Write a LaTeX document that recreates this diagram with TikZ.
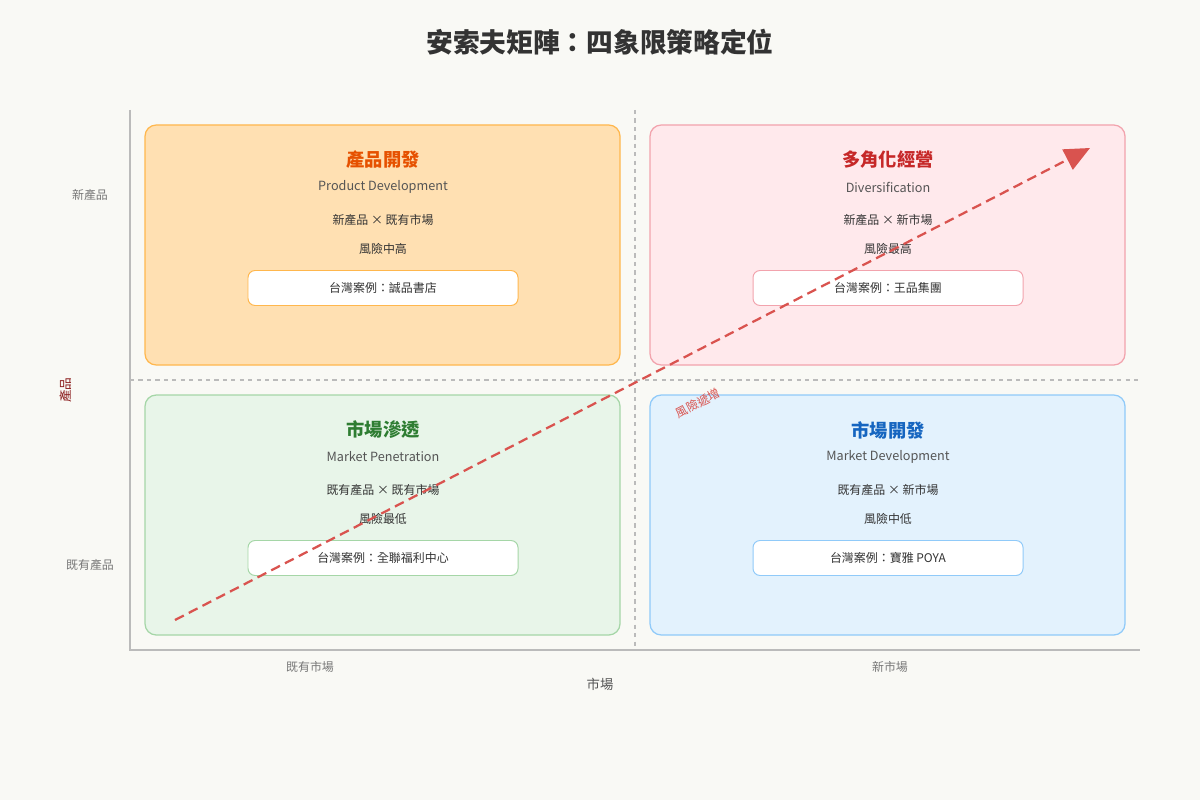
\documentclass[tikz,border=0pt]{standalone}
\usepackage{fontspec}
\setmainfont{Noto Sans CJK TC}
\usetikzlibrary{arrows.meta}
\definecolor{bg}{HTML}{F9F9F5}
\definecolor{axis}{HTML}{BBBBBB}
\definecolor{txt}{HTML}{333333}
\definecolor{sub}{HTML}{555555}
\definecolor{lab}{HTML}{777777}
\definecolor{oF}{HTML}{FFE0B2}\definecolor{oD}{HTML}{FFB74D}\definecolor{oT}{HTML}{E65100}
\definecolor{pF}{HTML}{FFE9EC}\definecolor{pD}{HTML}{F2A3AD}\definecolor{pT}{HTML}{C62828}
\definecolor{gF}{HTML}{E8F5E9}\definecolor{gD}{HTML}{A5D6A7}\definecolor{gT}{HTML}{2E7D32}
\definecolor{bF}{HTML}{E3F2FD}\definecolor{bD}{HTML}{90CAF9}\definecolor{bT}{HTML}{1565C0}
\definecolor{arr}{HTML}{D9534F}
\tikzset{
 quad/.style={draw=#1,line width=0.9pt,rounded corners=8pt},
 qtitle/.style={font=\fontsize{13}{15}\selectfont\bfseries,text=#1},
 qsub/.style={font=\fontsize{9}{11}\selectfont,text=sub},
 qline/.style={font=\fontsize{8.5}{10}\selectfont,text=txt},
 casebox/.style={draw=#1,fill=white,rounded corners=5pt,line width=0.7pt,minimum width=270*0.025cm,minimum height=35*0.025cm,font=\fontsize{8.5}{10}\selectfont,text=txt},
 axlab/.style={font=\fontsize{8.5}{10}\selectfont,text=lab},
}
\begin{document}
\begin{tikzpicture}[x=0.025cm,y=-0.025cm]
\fill[bg] (0,0) rectangle (1200,800);
\useasboundingbox (0,0) rectangle (1200,800);
\node[font=\fontsize{19}{21}\selectfont\bfseries,text=txt] (title) at (600,42) {安索夫矩陣：四象限策略定位};
% axes
\draw[axis,line width=0.8pt] (130,110) -- (130,650) -- (1140,650);
\draw[axis,dashed,line width=0.8pt] (635,110) -- (635,650);
\draw[axis,dashed,line width=0.8pt] (130,380) -- (1140,380);
% quadrants
\draw[quad=oD,fill=oF] (145,125) rectangle (620,365);
\draw[quad=pD,fill=pF] (650,125) rectangle (1125,365);
\draw[quad=gD,fill=gF] (145,395) rectangle (620,635);
\draw[quad=bD,fill=bF] (650,395) rectangle (1125,635);
% TL
\node[qtitle=oT] (t1) at (383,160) {產品開發};
\node[qsub] (s1) at (383,187) {Product Development};
\node[qline] (l1) at (383,220) {新產品 × 既有市場};
\node[qline] (r1) at (383,249) {風險中高};
\node[casebox=oD] (c1) at (383,288) {台灣案例：誠品書店};
% TR
\node[qtitle=pT] (t2) at (888,160) {多角化經營};
\node[qsub] (s2) at (888,187) {Diversification};
\node[qline] (l2) at (888,220) {新產品 × 新市場};
\node[qline] (r2) at (888,249) {風險最高};
\node[casebox=pD] (c2) at (888,288) {台灣案例：王品集團};
% BL
\node[qtitle=gT] (t3) at (383,430) {市場滲透};
\node[qsub] (s3) at (383,457) {Market Penetration};
\node[qline] (l3) at (383,490) {既有產品 × 既有市場};
\node[qline] (r3) at (383,519) {風險最低};
\node[casebox=gD] (c3) at (383,558) {台灣案例：全聯福利中心};
% BR
\node[qtitle=bT] (t4) at (888,430) {市場開發};
\node[qsub] (s4) at (888,457) {Market Development};
\node[qline] (l4) at (888,490) {既有產品 × 新市場};
\node[qline] (r4) at (888,519) {風險中低};
\node[casebox=bD] (c4) at (888,558) {台灣案例：寶雅 POYA};
% arrow
\coordinate (a0) at (175,620);
\coordinate (a1) at (1090,148);
\draw[arr,line width=1.6pt,dash pattern=on 7pt off 4pt,-{Triangle[length=18pt,width=16pt]}] (a0) -- (a1);
\node[font=\fontsize{8.5}{10}\selectfont,text=arr,rotate=27.3,inner sep=0pt] (risk) at (698,403) {風險遞增};
% axis labels
\node[axlab] (y1) at (90,195) {新產品};
\node[axlab] (y2) at (90,565) {既有產品};
\node[font=\fontsize{9}{11}\selectfont,text=pT!70!black,rotate=90] (yt) at (66,390) {產品};
\node[axlab] (x1) at (310,667) {既有市場};
\node[axlab] (x2) at (890,667) {新市場};
\node[font=\fontsize{9.5}{11}\selectfont,text=sub] (xt) at (600,684) {市場};
\end{tikzpicture}
\end{document}
